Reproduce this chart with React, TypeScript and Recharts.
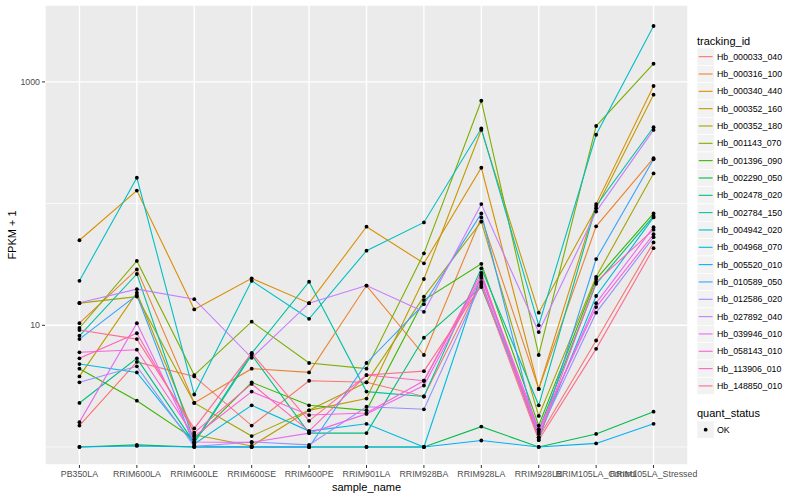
import { LineChart, Line, XAxis, YAxis, CartesianGrid, ReferenceLine } from 'recharts';

const samples = [
  'PB350LA', 'RRIM600LA', 'RRIM600LE', 'RRIM600SE', 'RRIM600PE', 'RRIM901LA',
  'RRIM928BA', 'RRIM928LA', 'RRIM928LB', 'RRIM105LA_Control', 'RRIM105LA_Stressed',
];

const trackingIds = [
  'Hb_000033_040', 'Hb_000316_100', 'Hb_000340_440', 'Hb_000352_160', 'Hb_000352_180',
  'Hb_001143_070', 'Hb_001396_090', 'Hb_002290_050', 'Hb_002478_020', 'Hb_002784_150',
  'Hb_004942_020', 'Hb_004968_070', 'Hb_005520_010', 'Hb_010589_050', 'Hb_012586_020',
  'Hb_027892_040', 'Hb_039946_010', 'Hb_058143_010', 'Hb_113906_010', 'Hb_148850_010',
];

// ggplot default hue palette for 20 levels
const colours = [
  '#F8766D', '#EA8331', '#D89000', '#C09B00', '#A3A500',
  '#7CAE00', '#39B600', '#00BB4E', '#00BF7D', '#00C1A3',
  '#00BFC4', '#00BAE0', '#00B0F6', '#35A2FF', '#9590FF',
  '#C77CFF', '#E76BF3', '#FA62DB', '#FF62BC', '#FF6C91',
];

// FPKM + 1, one value per sample
const hb000033_040 = [1.5, 5.0, 3.8, 1.5, 3.5, 3.4, 2.6, 22.7, 1.2, 7.5, 48];
const hb000316_100 = [10.4, 28.8, 2.3, 4.4, 4.1, 21.2, 5.7, 77, 3.0, 65, 236];
const hb000340_440 = [50, 128, 13.5, 24.3, 15.2, 64.6, 32.3, 197, 3.0, 99, 925];
const hb000352_160 = [3.8, 18.5, 1.26, 1.02, 2.0, 2.5, 24, 403, 12.7, 91.5, 785];
const hb000352_180 = [15.2, 17.2, 2.3, 1.23, 2.0, 3.4, 17.2, 71, 1.8, 25, 177];
const hb001143_070 = [9.5, 33.8, 3.9, 10.7, 4.9, 4.4, 39, 700, 5.7, 434, 1410];
const hb001396_090 = [4.4, 2.4, 1.16, 3.4, 2.2, 2.0, 16.1, 32, 1.5, 24, 83];
const hb002290_050 = [1.0, 1.04, 1.0, 1.0, 1.0, 1.0, 1.0, 1.47, 1.0, 1.28, 1.95];
const hb002478_020 = [2.3, 5.35, 1.08, 5.7, 1.3, 1.3, 7.9, 20.6, 1.38, 21.9, 79];
const hb002784_150 = [8.2, 26.4, 1.1, 5.9, 22.8, 2.85, 2.6, 29.4, 2.2, 95.5, 424];
const hb004942_020 = [23.2, 163, 2.7, 23.2, 11.3, 41, 70, 414, 10, 368, 2880];
const hb004968_070 = [4.8, 4.1, 1.06, 2.2, 1.35, 1.55, 1.0, 25.9, 1.19, 17.4, 77];
const hb005520_010 = [1.0, 1.02, 1.0, 1.0, 1.0, 1.0, 1.0, 1.13, 1.0, 1.07, 1.55];
const hb010589_050 = [7.7, 17.7, 1.02, 1.0, 1.0, 4.9, 14.9, 83, 1.14, 35, 231];
const hb012586_020 = [3.4, 4.6, 1.01, 1.1, 1.04, 2.14, 2.04, 22.3, 1.28, 12.7, 53];
const hb027892_040 = [15.3, 19.8, 16.4, 5.4, 15.2, 21.2, 12.9, 99, 8.8, 86, 403];
const hb039946_010 = [1.6, 10.4, 1.1, 1.09, 1.3, 1.87, 3.2, 24.5, 1.33, 15.2, 64];
const hb058143_010 = [6.0, 6.3, 1.22, 2.85, 1.83, 1.9, 3.5, 25.4, 1.4, 14.1, 56];
const hb113906_010 = [5.35, 8.6, 1.31, 3.3, 1.35, 3.9, 3.5, 27, 1.2, 22.7, 61];
const hb148850_010 = [9.15, 7.7, 1.42, 5.9, 1.64, 3.9, 4.2, 21.4, 1.14, 6.4, 43];

const seriesValues = [
  hb000033_040, hb000316_100, hb000340_440, hb000352_160, hb000352_180,
  hb001143_070, hb001396_090, hb002290_050, hb002478_020, hb002784_150,
  hb004942_020, hb004968_070, hb005520_010, hb010589_050, hb012586_020,
  hb027892_040, hb039946_010, hb058143_010, hb113906_010, hb148850_010,
];

const yTicks = [10, 1000];
const yMinor = [1, 100];

const rows = samples.map((name, i) => {
  const row: Record<string, number | string> = { x: i, name };
  trackingIds.forEach((id, j) => {
    row[id] = seriesValues[j][i];
  });
  return row;
});

const FONT = '"Liberation Sans", Arial, Helvetica, sans-serif';
const KEY = 17.33;

function LegendPanel() {
  const top = 48;
  const quantTop = 421;
  return (
    <svg
      width={800}
      height={500}
      style={{ position: 'absolute', left: 0, top: 0, pointerEvents: 'none' }}
      fontFamily={FONT}
    >
      <text x={697} y={44.5} fontSize={11} fill="#000">tracking_id</text>
      {trackingIds.map((id, i) => {
        const y = top + i * KEY;
        return (
          <g key={id}>
            <rect x={697} y={y} width={KEY} height={KEY} fill="#F2F2F2" stroke="#FFFFFF" strokeWidth={0.7} />
            <line x1={698.7} x2={712.6} y1={y + KEY / 2} y2={y + KEY / 2} stroke={colours[i]} strokeWidth={1.1} />
            <text x={717} y={y + KEY / 2 + 3.1} fontSize={8.8} fill="#000">{id}</text>
          </g>
        );
      })}
      <text x={697} y={416.5} fontSize={11} fill="#000">quant_status</text>
      <rect x={697} y={quantTop} width={KEY} height={KEY} fill="#F2F2F2" stroke="#FFFFFF" strokeWidth={0.7} />
      <circle cx={697 + KEY / 2} cy={quantTop + KEY / 2} r={1.9} fill="#000" />
      <text x={717} y={quantTop + KEY / 2 + 3.1} fontSize={8.8} fill="#000">OK</text>
    </svg>
  );
}

export default function App() {
  return (
    <div style={{ position: 'absolute', left: 0, top: 0, width: 800, height: 500, background: '#fff', fontFamily: FONT }}>
      <LineChart width={800} height={500} data={rows} margin={{ top: 5, right: 112, bottom: 0, left: 0 }}>
        <CartesianGrid fill="#EBEBEB" fillOpacity={1} stroke="#FFFFFF" strokeWidth={1.4} />
        <XAxis
          dataKey="x"
          type="number"
          domain={[-0.6, 10.6]}
          ticks={samples.map((_, i) => i)}
          interval={0}
          allowDataOverflow
          tickFormatter={(v: number) => samples[v] ?? ''}
          tick={{ fill: '#4D4D4D', fontSize: 8.8, fontFamily: FONT }}
          tickLine={{ stroke: '#333333' }}
          tickSize={3}
          tickMargin={3}
          axisLine={false}
          height={35}
          label={{ value: 'sample_name', position: 'insideBottom', offset: 9, fill: '#000', fontSize: 11, fontFamily: FONT }}
        />
        <YAxis
          type="number"
          scale="log"
          domain={[0.711, 4285]}
          allowDataOverflow
          ticks={yTicks}
          tick={{ fill: '#4D4D4D', fontSize: 8.8, fontFamily: FONT }}
          tickLine={{ stroke: '#333333' }}
          tickSize={3}
          tickMargin={2}
          axisLine={false}
          width={45}
          label={{ value: 'FPKM + 1', angle: -90, position: 'center', dx: -10, fill: '#000', fontSize: 11, fontFamily: FONT }}
        />
        {yMinor.map((v) => (
          <ReferenceLine key={v} y={v} stroke="#FFFFFF" strokeWidth={0.7} />
        ))}
        {trackingIds.map((id, i) => (
          <Line
            key={id}
            type="linear"
            dataKey={id}
            stroke={colours[i]}
            strokeWidth={1.1}
            dot={false}
            activeDot={false}
            isAnimationActive={false}
          />
        ))}
        {trackingIds.map((id) => (
          <Line
            key={id + '_pts'}
            type="linear"
            dataKey={id}
            stroke="none"
            dot={{ r: 1.9, fill: '#000', stroke: '#000', strokeWidth: 0 }}
            activeDot={false}
            isAnimationActive={false}
          />
        ))}
      </LineChart>
      <LegendPanel />
    </div>
  );
}
